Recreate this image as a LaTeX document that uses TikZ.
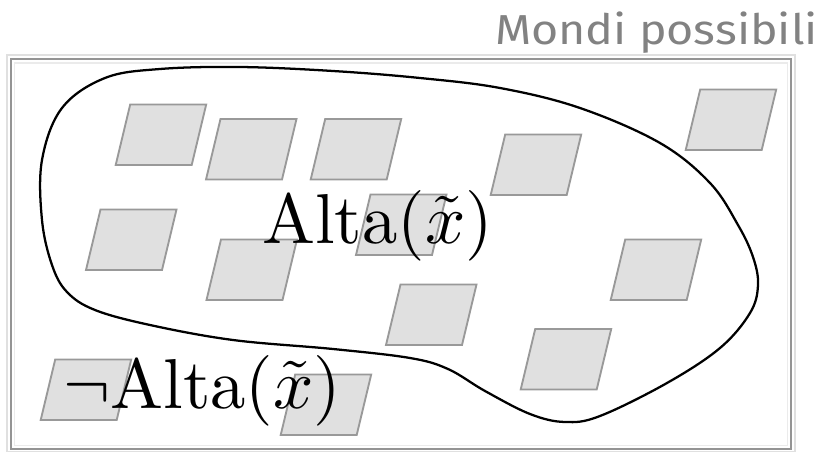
\documentclass[tikz,border=0pt]{standalone}
\usepackage{fontspec}
\newfontfamily\titlefont{Fira Sans}
\definecolor{worldfill}{HTML}{E0E0E0}
\definecolor{worlddraw}{HTML}{999999}
\definecolor{titlegray}{HTML}{828282}
\tikzset{
  worldbox/.style={fill=worldfill, draw=worlddraw, line width=1.4pt, line join=miter},
  pics/world/.style={code={
    \draw[worldbox] (0,0) -- (76,0) -- (90.5,-60.5) -- (14.5,-60.5) -- cycle;
  }},
  bigmath/.style={inner sep=0pt},
}
\newcommand{\hugemathlabel}[1]{\scalebox{5.3}{$#1$}}
\begin{document}
\begin{tikzpicture}[x=0.75pt, y=-0.75pt]
\useasboundingbox (0,0) rectangle (823,452);
% frame
\draw[black!12, line width=0.8pt] (7,55) rectangle (795,451.5);
\draw[black!42, line width=1.6pt] (11,59) rectangle (791,449);
\draw[black!8, line width=0.8pt] (14.5,63) rectangle (787.5,445.5);
% title
\node[anchor=base east, inner sep=0pt, text=titlegray] (title) at (818,45)
  {\resizebox{242pt}{24.5pt}{\titlefont Mondi possibili}};
% worlds
\foreach \bx/\by in {115.7/165, 206/179.5, 310.7/179.5, 86/270, 206.5/300,
  356/255, 490.7/195, 685.7/150, 610.7/300, 40.7/420, 280.7/435, 386/345, 520.7/389.5}
  \pic at (\bx,\by) {world};
% region
\draw[black, line width=1.7pt] plot[smooth cycle, tension=0.6] coordinates {
  (42,160) (62,108) (105,78) (160,69) (240,67) (333,71) (420,78) (500,88)
  (580,108) (660,143) (710,183) (738,225) (753,257) (758,285) (750,313) (720,348)
  (667,383) (600,416) (565,422) (530,414) (485,391) (448,369) (410,358)
  (333,349) (233,340) (150,325) (95,310) (67,292) (52,265) (42,220)};
% labels
\node[bigmath, anchor=base west] (alta) at (262,243) {\hugemathlabel{\mathrm{Alta}(\tilde{x})}};
\node[bigmath, anchor=base west] (nalta) at (63,408) {\hugemathlabel{\neg\mathrm{Alta}(\tilde{x})}};
\end{tikzpicture}
\end{document}
